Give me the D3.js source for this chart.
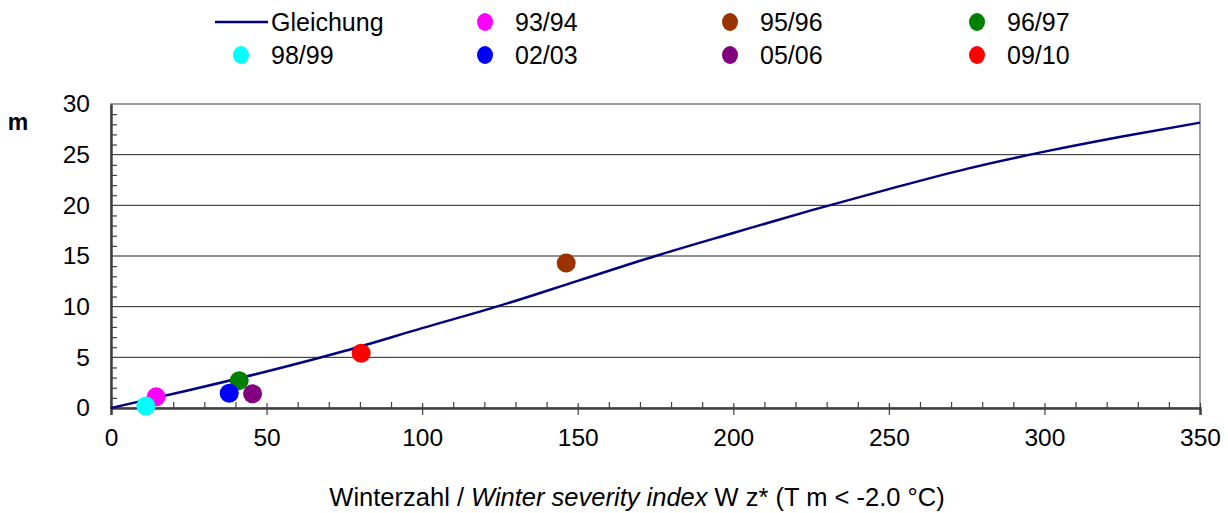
<!DOCTYPE html>
<html>
<head>
<meta charset="utf-8">
<script src="https://cdnjs.cloudflare.com/ajax/libs/d3/7.8.5/d3.min.js"></script>
<style>
  body { margin: 0; background: #fff; }
  svg text { font-family: Arial, "Liberation Sans", sans-serif; fill: #000; }
</style>
</head>
<body>
<script>
// curve "Gleichung" (x = Winterzahl, y = m)
const curveX = [0, 25, 50, 75, 100, 125, 150, 175, 200, 225, 250, 275, 300, 325, 350];
const curveY = [0, 1.75, 3.6, 5.62, 7.88, 10.1, 12.55, 15.0, 17.27, 19.5, 21.6, 23.6, 25.3, 26.8, 28.16];

// observed winters
const seasons = ["93/94", "95/96", "96/97", "98/99", "02/03", "05/06", "09/10"];
const seasonX = [14.5, 146.3, 41.2, 11.2, 38.0, 45.5, 80.4];
const seasonY = [1.1, 14.3, 2.7, 0.2, 1.45, 1.4, 5.4];
const seasonColors = ["#ff00ff", "#993300", "#008000", "#00ffff", "#0000ff", "#800080", "#ff0000"];

const xMajor = [0, 50, 100, 150, 200, 250, 300, 350];
const yMajor = [0, 5, 10, 15, 20, 25, 30];

const W = 1228, H = 513;
const margin = {top: 104, right: 28, bottom: 105, left: 111};
const width = W - margin.left - margin.right,
      height = H - margin.top - margin.bottom;
const fs = "24.5px";

const svg = d3.select("body").append("svg")
    .attr("width", W)
    .attr("height", H);

const x = d3.scaleLinear().domain([0, 350]).range([0, width]);
const y = d3.scaleLinear().domain([0, 30]).range([height, 0]);

const g = svg.append("g")
    .attr("transform", "translate(" + margin.left + "," + margin.top + ")");

// frame
g.append("rect")
    .attr("width", width)
    .attr("height", height)
    .attr("fill", "none")
    .attr("stroke", "#808080")
    .attr("stroke-width", 1.5);

// horizontal gridlines
g.selectAll(".grid")
  .data(yMajor.filter(d => d > 0 && d < 30))
  .enter().append("line")
    .attr("x1", 0).attr("x2", width)
    .attr("y1", d => y(d)).attr("y2", d => y(d))
    .attr("stroke", "#222")
    .attr("stroke-width", 1);

// y axis: minor ticks inside, labels
const yMinor = d3.range(0, 31).filter(d => d % 5 !== 0);
g.append("g")
    .call(d3.axisRight(y).tickValues(yMinor).tickSize(6).tickFormat(""))
    .call(a => a.select(".domain").remove())
    .selectAll("line").attr("stroke", "#404040").attr("stroke-width", 1.2);

const yAx = g.append("g")
    .call(d3.axisLeft(y).tickValues(yMajor).tickSize(0).tickPadding(21));
yAx.select(".domain").attr("stroke", "#404040").attr("stroke-width", 2.5);
yAx.selectAll("text").style("font-size", fs);

// x axis: minor ticks inside, major ticks crossing
const xMinor = d3.range(0, 351, 10).filter(d => d % 50 !== 0);
g.append("g")
    .attr("transform", "translate(0," + height + ")")
    .call(d3.axisBottom(x).tickValues(xMinor).tickSize(-6).tickFormat(""))
    .call(a => a.select(".domain").remove())
    .selectAll("line").attr("stroke", "#404040").attr("stroke-width", 1.2);

const xAx = g.append("g")
    .attr("transform", "translate(0," + height + ")")
    .call(d3.axisBottom(x).tickValues(xMajor).tickSize(7).tickPadding(14));
xAx.select(".domain").attr("stroke", "#404040").attr("stroke-width", 2.5);
xAx.selectAll(".tick line").attr("y1", -5).attr("stroke", "#404040").attr("stroke-width", 1.2);
xAx.selectAll("text").style("font-size", fs);

// equation curve
const line = d3.line()
    .x((d, i) => x(curveX[i]))
    .y(d => y(d))
    .curve(d3.curveMonotoneX);

g.append("path")
    .datum(curveY)
    .attr("d", line)
    .attr("fill", "none")
    .attr("stroke", "#000080")
    .attr("stroke-width", 2.5);

// points
g.selectAll(".pt")
  .data(seasons)
  .enter().append("circle")
    .attr("cx", (d, i) => x(seasonX[i]))
    .attr("cy", (d, i) => y(seasonY[i]))
    .attr("r", 9.5)
    .attr("fill", (d, i) => seasonColors[i]);

// axis titles
svg.append("text")
    .attr("x", 18).attr("y", 130)
    .attr("text-anchor", "middle")
    .style("font-size", "23px")
    .style("font-weight", "bold")
    .text("m");

const xt = svg.append("text")
    .attr("x", 637)
    .attr("y", 506)
    .attr("text-anchor", "middle")
    .style("font-size", "25.5px");
xt.append("tspan").text("Winterzahl / ");
xt.append("tspan").style("font-style", "italic").text("Winter severity index");
xt.append("tspan").text(" W z* (T m < -2.0 °C)");

// legend
const colX = [241, 485, 730, 977];
const rowY = [22, 55];
const legendItems = ["Gleichung"].concat(seasons);
const leg = svg.append("g");
legendItems.forEach(function(name, k) {
  const cx = colX[k % 4], cy = rowY[Math.floor(k / 4)];
  if (k === 0) {
    leg.append("line")
        .attr("x1", cx - 26).attr("x2", cx + 27)
        .attr("y1", cy).attr("y2", cy)
        .attr("stroke", "#000080").attr("stroke-width", 2.5);
  } else {
    leg.append("ellipse")
        .attr("cx", cx).attr("cy", cy)
        .attr("rx", 8).attr("ry", 9)
        .attr("fill", seasonColors[k - 1]);
  }
  leg.append("text")
      .attr("x", cx + 30)
      .attr("y", cy)
      .attr("dy", "0.36em")
      .style("font-size", "25px")
      .text(name);
});
</script>
</body>
</html>
